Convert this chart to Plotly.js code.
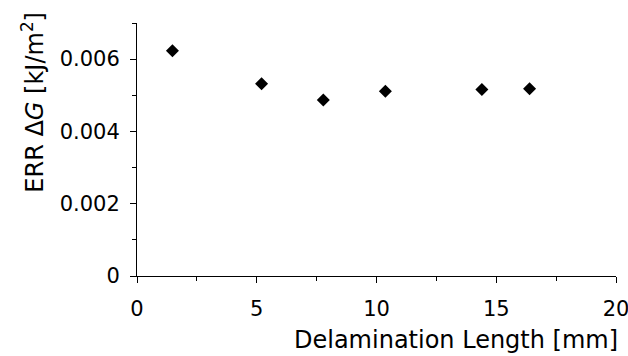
<!DOCTYPE html>
<html>
<head>
<meta charset="utf-8">
<script src="https://cdn.plot.ly/plotly-3.0.1.min.js"></script>
<style>html,body{margin:0;padding:0;background:#fff;}#chart{width:628px;height:356px;}</style>
</head>
<body>
<div id="chart"></div>
<script>
const delaminationLength = [1.48, 5.2, 7.78, 10.37, 14.4, 16.39];
const errDeltaG = [0.00623, 0.00532, 0.00487, 0.00511, 0.00516, 0.00518];
const xTitle = 'Delamination Length [mm]';
const yTitle = 'ERR Δ<i>G</i> [kJ/m<sup>2</sup>]';
const fontFamily = '"DejaVu Sans", Verdana, sans-serif';

const trace = {
  x: delaminationLength,
  y: errDeltaG,
  type: 'scatter',
  mode: 'markers',
  marker: {symbol: 'diamond', size: 10, color: '#000'},
  showlegend: false
};

const layout = {
  width: 628, height: 356,
  margin: {l: 137, r: 12, t: 23, b: 80},
  paper_bgcolor: '#fff', plot_bgcolor: '#fff',
  font: {family: fontFamily, color: '#000', size: 21},
  xaxis: {
    range: [0, 20], dtick: 5, tick0: 0,
    showgrid: false, zeroline: false,
    showline: true, linecolor: '#000', linewidth: 1,
    ticks: 'outside', ticklen: 6, tickcolor: '#000',
    minor: {dtick: 2.5, ticks: 'outside', ticklen: 4, tickcolor: '#000', showgrid: false},
    tickfont: {size: 21, family: fontFamily, color: '#000'},
    ticklabelstandoff: 8,
    ticklabeloverflow: 'allow',
    fixedrange: true
  },
  yaxis: {
    range: [0, 0.007], dtick: 0.002, tick0: 0,
    showgrid: false, zeroline: false,
    showline: true, linecolor: '#000', linewidth: 1,
    ticks: 'outside', ticklen: 6, tickcolor: '#000',
    minor: {dtick: 0.001, ticks: 'outside', ticklen: 4, tickcolor: '#000', showgrid: false},
    tickfont: {size: 21, family: fontFamily, color: '#000'},
    ticklabelstandoff: 6,
    ticklabeloverflow: 'allow',
    fixedrange: true
  },
  annotations: [
    {text: xTitle, xref: 'paper', yref: 'paper', x: 1, y: 0,
     xanchor: 'right', yanchor: 'middle', xshift: 4, yshift: -64,
     showarrow: false, font: {size: 24, family: fontFamily, color: '#000'}},
    {text: yTitle, xref: 'paper', yref: 'paper', x: 0, y: 0.685,
     xanchor: 'center', yanchor: 'middle', xshift: -104, textangle: -90,
     showarrow: false, font: {size: 24, family: fontFamily, color: '#000'}}
  ]
};

Plotly.newPlot('chart', [trace], layout, {staticPlot: true, displayModeBar: false});
</script>
</body>
</html>
